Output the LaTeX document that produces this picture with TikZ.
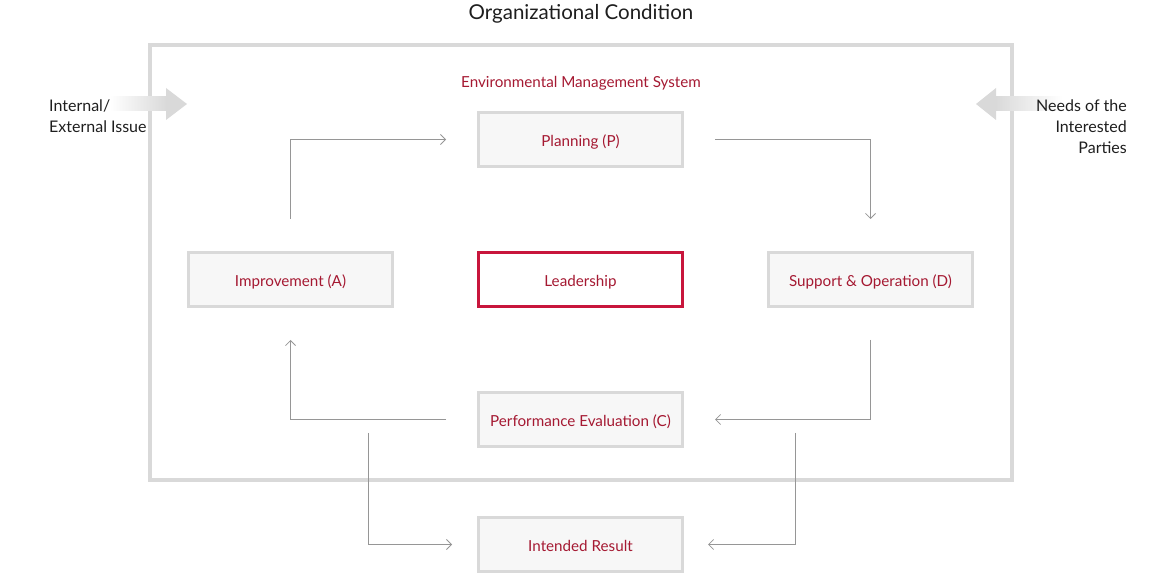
\documentclass[tikz,border=0pt]{standalone}
\usepackage{fontspec}
\setmainfont{Lato}
\usetikzlibrary{arrows.meta,calc}
\definecolor{framegray}{RGB}{217,217,217}
\definecolor{boxfill}{RGB}{247,247,247}
\definecolor{txtred}{RGB}{165,25,50}
\definecolor{leadred}{RGB}{200,22,60}
\definecolor{linegray}{RGB}{150,150,150}
\definecolor{txtdark}{RGB}{30,30,30}
\tikzset{
  box/.style={draw=framegray, line width=3pt, fill=boxfill, minimum width=204pt, minimum height=54pt, inner sep=0pt, text height=14.5pt, text depth=0pt, text=txtred, font=\fontsize{15.2pt}{18pt}\selectfont},
  leadbox/.style={box, draw=leadred, line width=2.7pt, fill=white},
  conn/.style={draw=linegray, line width=0.8pt, -{Straight Barb[length=5pt,width=10pt,line width=0.8pt]}},
  sidetext/.style={text=txtdark, font=\fontsize{16pt}{21pt}\selectfont, inner sep=0pt},
}
\begin{document}
\begin{tikzpicture}[x=1pt,y=-1pt]
\useasboundingbox (0,0) rectangle (1171,577);
% title
\node[text=txtdark, font=\fontsize{20.5pt}{24pt}\selectfont, text height=15pt, text depth=0pt, inner sep=0pt] (title) at (581,12.5) {Organizational Condition};
% outer frame
\draw[framegray, line width=4pt] (150,45) rectangle (1012,480);
\node[text=txtred, font=\fontsize{15.2pt}{18pt}\selectfont, text height=10.5pt, text depth=0pt, inner sep=0pt] (ems) at (581,82) {Environmental Management System};
% side arrows
\shade[left color=white, right color=framegray] (110,97) rectangle (167,111);
\fill[framegray] (166,88) -- (187,104) -- (166,120) -- cycle;
\shade[left color=framegray, right color=white] (995,97) rectangle (1062,111);
\fill[framegray] (996,88) -- (976,104) -- (996,120) -- cycle;
\node[sidetext, align=left, anchor=north west] (inissue) at (49,99.5) {Internal/\\External Issue};
\node[sidetext, align=right, anchor=north east] (needs) at (1127,99.5) {Needs of the\\Interested\\Parties};
% boxes
\node[box] (plan) at (580.5,139.5) {Planning (P)};
\node[box] (imp) at (290.5,279.5) {Improvement (A)};
\node[leadbox] (lead) at (580.5,279.5) {Leadership};
\node[box] (sup) at (870.5,279.5) {Support \& Operation (D)};
\node[box] (perf) at (580.5,419.5) {Performance Evaluation (C)};
\node[box] (res) at (580.5,544.5) {Intended Result};
% connectors
\draw[conn, shorten <=32pt, shorten >=31pt] (imp.north) |- (plan.west);
\draw[conn, shorten <=31pt, shorten >=32pt] (plan.east) -| (sup.north);
\draw[conn, shorten <=32pt, shorten >=31pt] (sup.south) |- (perf.east);
\draw[conn, shorten <=31pt, shorten >=32pt] (perf.west) -| (imp.south);
\coordinate (lstart) at (368,433);
\coordinate (rstart) at (795,433);
\draw[conn, shorten >=25pt] (lstart) |- (res.west);
\draw[conn, shorten >=24pt] (rstart) |- (res.east);
\end{tikzpicture}
\end{document}
